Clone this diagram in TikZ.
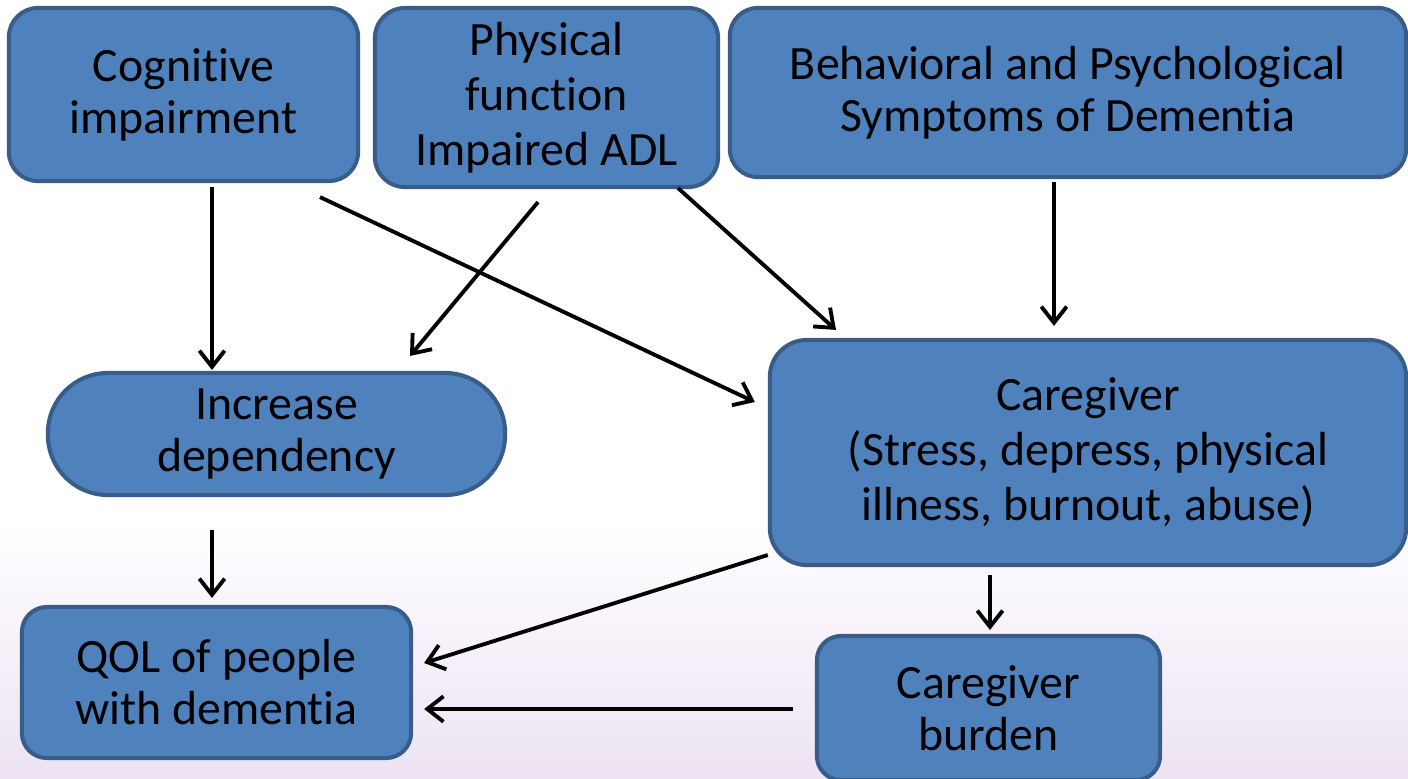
\documentclass[tikz,border=0pt]{standalone}
\usepackage{fontspec}
\setmainfont[Ligatures=NoCommon, Contextuals=NoAlternate, RawFeature={-liga;-clig;-dlig;-calt}]{Carlito}
\usetikzlibrary{arrows.meta,calc}
\definecolor{boxfill}{RGB}{79,129,189}
\definecolor{boxline}{RGB}{56,93,138}
\definecolor{lavender}{RGB}{237,227,243}
\tikzset{
  box/.style={draw=boxline, fill=boxfill, line width=1.15pt, align=center,
    inner sep=0pt, font=\fontsize{13.6}{14.8}\selectfont},
  wide/.style={font=\fontsize{13.6}{15.6}\selectfont},
  link/.style={line width=1.1pt, -{Straight Barb[length=4.6pt,width=7.2pt,line width=1.1pt]}}
}
\begin{document}
\begin{tikzpicture}[x=0.01cm, y=-0.01cm]
  % page background: white fading into lavender at the bottom
  \fill[white] (0,0) rectangle (1408,778);
  \shade[top color=white, bottom color=lavender] (0,520) rectangle (1408,778);
  \useasboundingbox (0,0) rectangle (1408,778);
  \begin{scope}
  \clip (0,0) rectangle (1408,778);
  % top row
  \node[box, minimum width=3.49cm, minimum height=1.73cm, rounded corners=0.29cm]
    (cog) at (183.5,94.5) {Cognitive\\impairment};
  \node[box, wide, minimum width=3.43cm, minimum height=1.79cm, rounded corners=0.30cm]
    (phy) at (546.5,97.5) {Physical\\function\\Impaired ADL};
  \node[box, minimum width=6.76cm, minimum height=1.69cm, rounded corners=0.28cm]
    (bpsd) at (1068,92.5) {Behavioral and Psychological\\Symptoms of Dementia};
  % middle row
  \node[box, minimum width=4.57cm, minimum height=1.22cm, rounded corners=0.6cm]
    (inc) at (276.5,434) {Increase\\dependency};
  \node[box, wide, minimum width=6.36cm, minimum height=2.25cm, rounded corners=0.37cm]
    (care) at (1088,452.5) {Caregiver\\(Stress, depress, physical\\illness, burnout, abuse)};
  % bottom row
  \node[box, minimum width=3.89cm, minimum height=1.51cm, rounded corners=0.25cm]
    (qol) at (216.5,682.5) {QOL of people\\with dementia};
  \node[box, minimum width=3.43cm, minimum height=1.44cm, rounded corners=0.24cm]
    (bur) at (988.5,708) {Caregiver\\burden};
  \end{scope}
  % influences
  \draw[link] ($(cog.south)+(28.5,4)$) -- ($(inc.north)+(-64.5,-1)$);
  \draw[link] ($(cog.south)+(136.5,14)$) -- ($(care.west)+(-13,-50.5)$);
  \draw[link] ($(phy.south)+(-8.5,13)$) -- ($(inc.north)+(133.5,-15)$);
  \draw[link] ($(phy.south)+(131.5,-1)$) -- ($(care.north)+(-252,-8)$);
  \draw[link] ($(bpsd.south)+(-14,3)$) -- ($(care.north)+(-34,-12)$);
  \draw[link] ($(inc.south)+(-64.5,33)$) -- ($(qol.north)+(-4.5,-7)$);
  \draw[link] ($(care.west)+(0,102.5)$) -- ($(qol.east)+(11,-19.5)$);
  \draw[link] ($(care.south)+(-98,8)$) -- ($(bur.north)+(1.5,-4)$);
  \draw[link] ($(bur.west)+(-22,1)$) -- ($(qol.east)+(11,26.5)$);
\end{tikzpicture}
\end{document}
